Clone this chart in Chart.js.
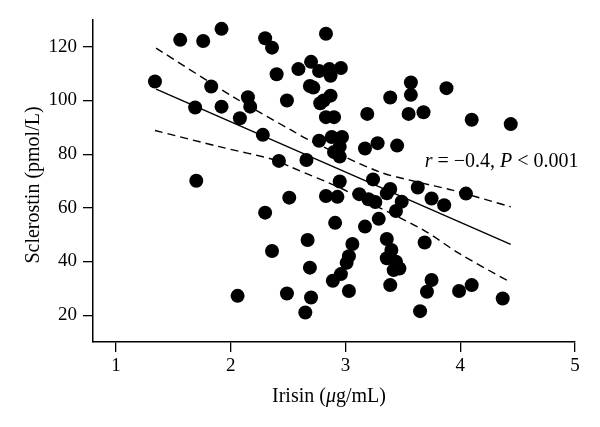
<!DOCTYPE html>
<html>
<head>
<meta charset="utf-8">
<script src="https://cdn.jsdelivr.net/npm/chart.js@4/dist/chart.umd.min.js"></script>
<style>
  body { margin: 0; background: #fff; }
  canvas { display: block; }
</style>
</head>
<body>
<canvas id="chart" width="600" height="427"></canvas>
<script>
// --- data ---
const irisin = [
  1.34, 1.56, 1.76, 1.92, 1.83, 1.69, 1.92, 2.08, 2.15, 2.17,
  2.28, 2.30, 2.36, 2.40, 2.49, 2.59, 2.70, 2.77, 2.86, 2.87,
  2.96, 2.69, 2.72, 2.87, 2.81, 2.78, 2.83, 2.83, 2.90, 3.19,
  3.39, 3.57, 3.57, 3.55, 3.68, 3.88, 4.10, 4.44, 2.77, 2.88,
  2.97, 2.95, 2.90, 2.95, 3.17, 3.28, 3.45, 2.66, 2.42, 2.95,
  3.24, 3.63, 3.75, 3.86, 4.05, 2.83, 2.93, 3.12, 3.20, 3.26,
  3.39, 3.36, 3.49, 3.44, 2.91, 3.17, 3.29, 3.69, 3.06, 3.03,
  3.01, 2.96, 2.89, 3.03, 3.36, 3.40, 3.36, 3.44, 3.47, 3.42,
  3.39, 3.75, 3.71, 3.65, 3.99, 4.10, 4.37, 1.70, 2.51, 2.30,
  2.67, 2.36, 2.69, 2.06, 2.49, 2.70, 2.65
];
const sclerostin = [
  107.1, 122.6, 122.2, 126.7, 105.2, 97.4, 97.7, 93.4, 101.2, 97.7,
  87.2, 123.2, 119.7, 109.8, 100.0, 111.7, 114.4, 111.0, 111.7, 109.2,
  112.1, 105.4, 104.8, 101.8, 100.0, 99.0, 124.9, 93.8, 93.8, 95.0,
  101.1, 106.7, 102.1, 95.0, 95.6, 104.6, 92.8, 91.2, 85.0, 86.4,
  86.4, 82.8, 80.8, 79.1, 82.1, 84.1, 83.2, 77.8, 77.5, 69.8,
  70.6, 67.6, 63.5, 61.0, 65.3, 64.4, 64.1, 65.1, 63.2, 62.2,
  67.0, 65.4, 62.3, 58.8, 54.4, 53.0, 55.9, 47.1, 46.5, 42.0,
  39.5, 35.3, 32.8, 29.0, 48.4, 44.3, 41.2, 39.9, 37.4, 36.8,
  31.2, 33.1, 28.7, 21.5, 29.0, 31.2, 26.2, 70.1, 63.8, 58.2,
  48.0, 43.9, 37.7, 27.2, 28.1, 26.6, 21.0
];

// regression line and 95% band
const fitX = [1.35, 4.44];
const fitY = [104.2, 46.4];
const upperX = [1.35, 2.04, 2.55, 2.68, 3.29, 3.62, 3.93, 4.44];
const upperY = [119.5, 100.9, 88.4, 85.3, 73.5, 69.7, 66.6, 60.4];
const lowerX = [1.34, 1.90, 2.39, 2.52, 2.96, 3.28, 3.68, 3.99, 4.44];
const lowerY = [88.8, 82.8, 77.8, 75.3, 67.3, 60.4, 51.7, 43.0, 32.2];

const xTicks = [1, 2, 3, 4, 5];
const yTicks = [20, 40, 60, 80, 100, 120];

const FONT = '"Liberation Serif", "Times New Roman", serif';

const zip = (xs, ys) => xs.map((x, i) => ({ x: x, y: ys[i] }));

// draws a run of text pieces, some italic, starting at x
function drawPieces(ctx, pieces, x, y, size) {
    pieces.forEach(p => {
        ctx.font = (p.italic ? 'italic ' : '') + size + 'px ' + FONT;
        ctx.fillText(p.t, x, y);
        x += ctx.measureText(p.t).width;
    });
}
function piecesWidth(ctx, pieces, size) {
    return pieces.reduce((w, p) => {
        ctx.font = (p.italic ? 'italic ' : '') + size + 'px ' + FONT;
        return w + ctx.measureText(p.t).width;
    }, 0);
}

const textPlugin = {
    id: 'texts',
    afterDraw(chart) {
        const ctx = chart.ctx;
        const xs = chart.scales.x, ys = chart.scales.y;
        ctx.save();
        ctx.fillStyle = '#000';
        ctx.textBaseline = 'alphabetic';
        ctx.textAlign = 'left';

        // annotation
        const note = [
            { t: 'r', italic: true }, { t: ' = \u22120.4, ' },
            { t: 'P', italic: true }, { t: ' < 0.001' }
        ];
        drawPieces(ctx, note, xs.getPixelForValue(3.69), ys.getPixelForValue(75.3), 20);

        // x title
        const xt = [{ t: 'Irisin (' }, { t: '\u03bc', italic: true }, { t: 'g/mL)' }];
        const wx = piecesWidth(ctx, xt, 20);
        drawPieces(ctx, xt, 329 - wx / 2, 402, 20);

        // y title
        const yt = [{ t: 'Sclerostin (pmol/L)' }];
        const wy = piecesWidth(ctx, yt, 20);
        ctx.translate(39, 185);
        ctx.rotate(-Math.PI / 2);
        drawPieces(ctx, yt, -wy / 2, 0, 20);
        ctx.restore();
    }
};

const axisCommon = {
    type: 'linear',
    grid: { drawOnChartArea: false, drawTicks: true, tickLength: 10, color: '#000', lineWidth: 1.3 },
    border: { display: true, color: '#000', width: 1.5 },
    ticks: { color: '#000', font: { family: FONT, size: 19 } }
};

new Chart(document.getElementById('chart'), {
    type: 'scatter',
    data: {
        datasets: [
            {
                data: zip(irisin, sclerostin),
                backgroundColor: '#000',
                borderWidth: 0,
                pointRadius: 7
            },
            {
                type: 'line',
                data: zip(fitX, fitY),
                borderColor: '#000',
                borderWidth: 1.4,
                pointRadius: 0,
                fill: false
            },
            {
                type: 'line',
                data: zip(upperX, upperY),
                borderColor: '#000',
                borderWidth: 1.4,
                borderDash: [8, 5],
                pointRadius: 0,
                tension: 0.3,
                fill: false
            },
            {
                type: 'line',
                data: zip(lowerX, lowerY),
                borderColor: '#000',
                borderWidth: 1.4,
                borderDash: [8, 5],
                pointRadius: 0,
                tension: 0.3,
                fill: false
            }
        ]
    },
    options: {
        responsive: false,
        animation: false,
        events: [],
        layout: { padding: { top: 20, right: 25, left: 0, bottom: 0 } },
        plugins: { legend: { display: false }, tooltip: { enabled: false } },
        scales: {
            x: {
                ...axisCommon,
                min: 0.8,
                max: 5,
                afterBuildTicks: s => { s.ticks = xTicks.map(v => ({ value: v })); },
                afterFit: s => { s.height = 85; },
                ticks: { ...axisCommon.ticks, padding: 3, maxRotation: 0 }
            },
            y: {
                ...axisCommon,
                min: 10,
                max: 130,
                afterBuildTicks: s => { s.ticks = yTicks.map(v => ({ value: v })); },
                afterFit: s => { s.width = 93; },
                ticks: { ...axisCommon.ticks, padding: 6 }
            }
        }
    },
    plugins: [textPlugin]
});
</script>
</body>
</html>
